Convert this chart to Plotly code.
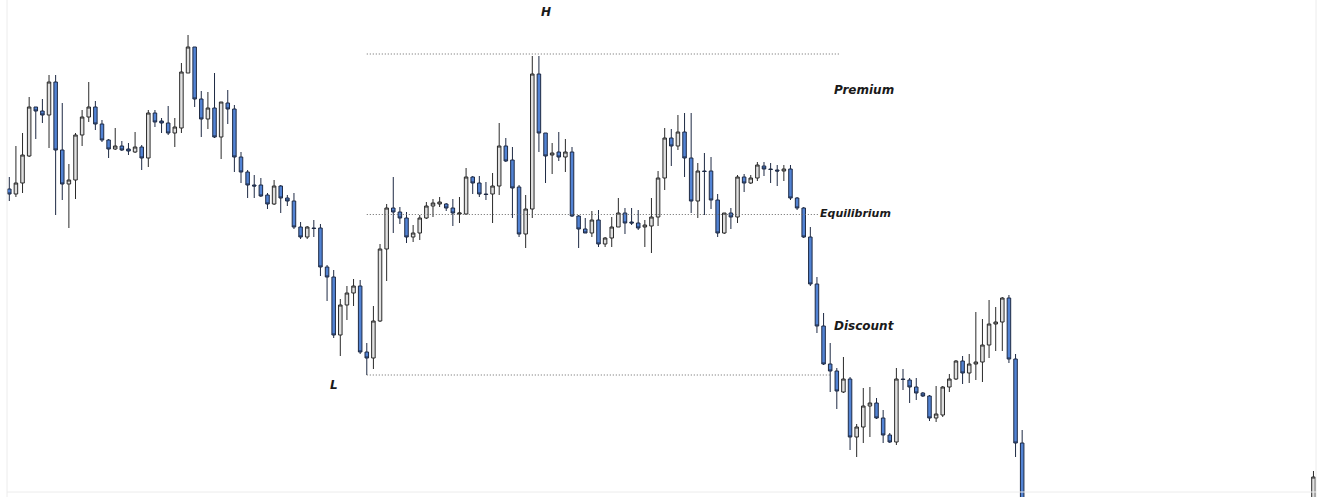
import plotly.graph_objects as go

# ---- data (price units) ----
idx = list(range(154)) + [197]

opens = [811, 806, 817, 844, 893, 889, 885, 918, 850, 816, 820, 865, 883, 893, 876, 860, 851, 854, 851, 848,
         853, 842, 887, 879, 877, 867, 872, 927, 953, 901, 881, 892, 863, 897, 891, 843, 828, 815, 815, 805,
         796, 814, 802, 799, 773, 763, 772, 772, 733, 723, 665, 695, 707, 714, 648, 642, 679, 751, 792, 788,
         782, 763, 767, 782, 794, 796, 796, 792, 786, 786, 823, 817, 806, 806, 814, 854, 840, 813, 766, 791,
         926, 867, 845, 848, 843, 848, 784, 771, 767, 780, 756, 762, 773, 787, 778, 777, 773, 774, 783, 822,
         862, 854, 868, 842, 799, 829, 829, 800, 767, 787, 783, 823, 817, 822, 834, 831, 830, 829, 831, 802,
         792, 763, 716, 674, 636, 629, 608, 621, 563, 573, 594, 597, 582, 565, 558, 621, 620, 613, 607, 604,
         582, 585, 613, 621, 639, 627, 636, 638, 655, 676, 678, 702, 641, 557, 495]
highs = [823, 854, 867, 903, 893, 901, 925, 925, 897, 836, 867, 890, 918, 899, 880, 861, 872, 859, 857, 868,
         855, 890, 890, 882, 894, 882, 937, 965, 953, 909, 908, 927, 898, 910, 895, 848, 830, 825, 822, 807,
         820, 815, 805, 807, 778, 774, 780, 776, 735, 730, 701, 714, 721, 720, 657, 694, 756, 796, 823, 793,
         788, 775, 785, 798, 801, 803, 797, 801, 803, 832, 824, 824, 818, 827, 877, 862, 853, 815, 805, 944,
         944, 867, 857, 868, 861, 853, 785, 782, 789, 790, 763, 783, 802, 792, 792, 790, 780, 802, 829, 872,
         871, 885, 887, 887, 837, 847, 843, 806, 787, 792, 825, 826, 825, 838, 838, 837, 835, 835, 835, 803,
         793, 773, 723, 687, 657, 632, 643, 623, 576, 612, 613, 602, 590, 567, 632, 631, 622, 622, 608, 605,
         614, 614, 626, 640, 644, 646, 688, 681, 700, 693, 703, 705, 646, 570, 529]
lows = [799, 803, 807, 843, 861, 877, 852, 785, 800, 772, 801, 854, 878, 870, 858, 842, 850, 849, 845, 847,
        830, 833, 873, 867, 865, 853, 867, 927, 893, 863, 871, 862, 841, 876, 828, 817, 802, 802, 803, 791,
        795, 787, 794, 771, 761, 761, 763, 724, 699, 662, 644, 680, 694, 646, 625, 631, 678, 719, 767, 776,
        757, 758, 760, 781, 783, 793, 789, 774, 777, 785, 806, 803, 800, 777, 805, 838, 782, 763, 752, 782,
        848, 817, 826, 839, 828, 783, 752, 767, 763, 753, 753, 753, 773, 766, 775, 770, 753, 747, 774, 810,
        834, 850, 823, 787, 782, 785, 791, 763, 766, 771, 777, 808, 816, 819, 824, 817, 814, 819, 800, 790,
        762, 714, 667, 635, 608, 591, 607, 550, 543, 557, 563, 581, 557, 557, 555, 610, 597, 600, 603, 579,
        578, 583, 608, 620, 616, 617, 620, 618, 642, 649, 649, 637, 543, 490, 495]
closes = [806, 817, 845, 893, 889, 885, 918, 850, 816, 820, 865, 883, 893, 876, 860, 851, 854, 850, 849, 853,
          842, 887, 878, 877, 867, 873, 928, 953, 901, 881, 892, 863, 898, 891, 843, 828, 815, 814, 804, 796,
          814, 802, 799, 773, 763, 773, 771.5, 733, 723, 665, 695, 707, 714, 648, 642, 679, 751, 792, 788, 782,
          763, 767, 782, 794, 797, 798, 792, 787, 787, 823, 817, 806, 805.5, 814, 854, 839, 812, 766, 791, 926,
          867, 844, 847, 843, 848, 784, 771, 767, 780, 756, 762, 773, 787, 777, 777, 772, 775, 783, 822, 862,
          854, 868, 842, 799, 829, 828.5, 800, 767, 787, 783, 823, 817, 822, 835, 831, 830.5, 829, 831, 802, 792,
          763, 716, 674, 636, 629, 609, 621, 563, 573, 594, 597, 582, 565, 558, 621, 620.5, 613, 607, 604, 582,
          586, 613, 621, 639, 627, 636, 638, 655, 676, 678, 702, 641, 557, 495, 523]

range_high = 946
range_low = 625
equilibrium = (range_high + range_low) / 2

zone_labels = ["Premium", "Equilibrium", "Discount"]
zone_prices = [910, 787, 674]

# ---- figure ----
fig = go.Figure()
fig.add_trace(go.Candlestick(
    x=idx, open=opens, high=highs, low=lows, close=closes,
    increasing=dict(line=dict(color="#2a2a2a", width=1), fillcolor="#e0e0e0"),
    decreasing=dict(line=dict(color="#1e2a44", width=1), fillcolor="#5283d4"),
    whiskerwidth=0, showlegend=False, hoverinfo="skip",
))

dot = dict(color="#666666", width=1, dash="1px,2px")
fig.add_shape(type="line", xref="x", yref="y", x0=54, x1=125.5, y0=range_high, y1=range_high, line=dot)
fig.add_shape(type="line", xref="x", yref="y", x0=54, x1=122.2, y0=equilibrium, y1=equilibrium, line=dot)
fig.add_shape(type="line", xref="x", yref="y", x0=54, x1=124.1, y0=range_low, y1=range_low, line=dot)

frame = dict(color="#ececec", width=1)
fig.add_shape(type="line", xref="paper", yref="paper", x0=7/1331, x1=7/1331, y0=0, y1=1, line=frame)
fig.add_shape(type="line", xref="paper", yref="paper", x0=1316/1331, x1=1316/1331, y0=0, y1=1, line=frame)
fig.add_shape(type="line", xref="paper", yref="paper", x0=7/1331, x1=1316/1331, y0=5/497, y1=5/497, line=frame)

lab_font = dict(family="DejaVu Sans", size=12, color="#1a1a1a", weight="bold", style="italic")
fig.add_annotation(x=81.1, y=988, text="H", showarrow=False, font=lab_font, xanchor="center", yanchor="middle")
fig.add_annotation(x=49.05, y=615, text="L", showarrow=False, font=lab_font, xanchor="center", yanchor="middle")
zone_x = [124.2, 122.2, 124.2]
zone_sizes = [12, 11, 12]
for t, yv, xv, s in zip(zone_labels, zone_prices, zone_x, zone_sizes):
    f = dict(lab_font)
    f["size"] = s
    fig.add_annotation(x=xv, y=yv, text=t, showarrow=False, font=f, xanchor="left", yanchor="middle")

fig.update_layout(
    width=1331, height=497,
    margin=dict(l=0, r=0, t=0, b=0),
    paper_bgcolor="white", plot_bgcolor="white",
    boxgap=0.24,
    xaxis=dict(range=[-1.405, 199.65], visible=False, rangeslider=dict(visible=False), fixedrange=True),
    yaxis=dict(range=[503, 1000], visible=False, fixedrange=True),
)

fig.write_html("out.html", config={"displayModeBar": False},
               post_script="document.body.style.margin='0';document.body.style.padding='0';document.body.style.overflow='hidden';")
